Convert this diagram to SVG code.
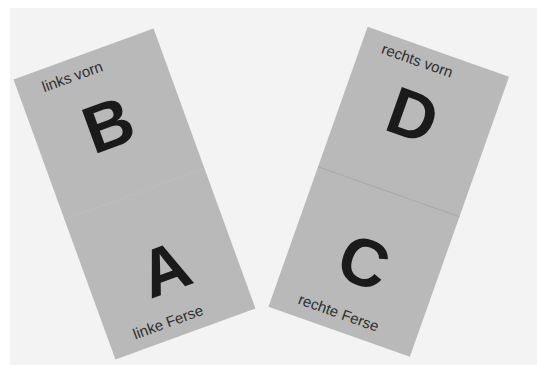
<svg xmlns="http://www.w3.org/2000/svg" width="537" height="365" viewBox="0 0 537 365">
  <style>
    .card { fill: #b9b9b9; }
    .big { font-family: "Liberation Sans", Arial, sans-serif; font-weight: bold; font-size: 67px; fill: #1a1a1a; text-anchor: middle; }
    .small { font-family: "Liberation Sans", Arial, sans-serif; font-size: 15px; fill: #2f2f2f; }
    .fold { stroke: #a9a9a9; stroke-width: 1; }
    .fold-faint { stroke: #bdbdbd; stroke-width: 1; }
  </style>
  <rect x="0" y="0" width="537" height="365" fill="#ffffff"/>
  <rect x="10" y="8" width="527" height="357" fill="#f3f3f3"/>

  <g id="left-card" transform="translate(134.5 194) rotate(-20)">
    <rect class="card" x="-74.5" y="-149" width="149" height="298"/>
    <line class="fold-faint" x1="-74.5" y1="0" x2="74.5" y2="0"/>
    <text class="small" x="-50" y="-126.5">links vorn</text>
    <text class="big" x="-1" y="-51">B</text>
    <text class="big" x="3" y="104">A</text>
    <text class="small" x="-49" y="137">linke Ferse</text>
  </g>

  <g id="right-card" transform="translate(388.75 191.75) rotate(19.5)">
    <rect class="card" x="-75" y="-148.5" width="150" height="297"/>
    <line class="fold" x1="-75" y1="0" x2="75" y2="0"/>
    <text class="small" x="-54" y="-128">rechts vorn</text>
    <text class="big" x="-3" y="-57">D</text>
    <text class="big" x="0" y="98">C</text>
    <text class="small" x="-49" y="136">rechte Ferse</text>
  </g>
</svg>
